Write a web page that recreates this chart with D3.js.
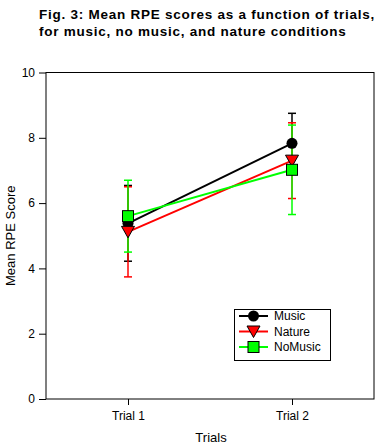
<!DOCTYPE html>
<html><head><meta charset="utf-8">
<script src="https://cdn.jsdelivr.net/npm/d3@7"></script>
<style>body{margin:0;background:#fff}svg{display:block}</style>
</head><body><svg id="c" width="389" height="446"></svg>
<script>
const trials = ["Trial 1", "Trial 2"];
const seriesNames = ["Music", "Nature", "NoMusic"];
const musicMean = [5.38, 7.83];
const musicErr = [1.16, 0.92];
const natureMean = [5.12, 7.30];
const natureErr = [1.38, 1.16];
const noMusicMean = [5.60, 7.02];
const noMusicErr = [1.10, 1.37];
const yTicks = [0, 2, 4, 6, 8, 10];

const series = [
  {name: seriesNames[0], mean: musicMean, err: musicErr, color: "#000000", shape: "circle"},
  {name: seriesNames[1], mean: natureMean, err: natureErr, color: "#ff0000", shape: "triangle"},
  {name: seriesNames[2], mean: noMusicMean, err: noMusicErr, color: "#00ff00", shape: "square"}
];

const svg = d3.select("#c");
const L = 46, R = 374, T = 72.5, B = 399;
const x = d3.scalePoint().domain(trials).range([L, R]).padding(0.5);
const y = d3.scaleLinear().domain([0, 10]).range([B, T]);
const font = "Liberation Sans, Arial, sans-serif";

// title
const title = svg.append("text").attr("font-family", font).attr("font-weight", "bold").attr("font-size", 13.5)
  .attr("letter-spacing", 0.75).attr("fill", "#000");
title.append("tspan").attr("x", 39).attr("y", 19).text("Fig. 3: Mean RPE scores as a function of trials,");
title.append("tspan").attr("x", 39).attr("y", 36).text("for music, no music, and nature conditions");

// frame
svg.append("rect").attr("x", L).attr("y", T).attr("width", R - L).attr("height", B - T)
  .attr("fill", "none").attr("stroke", "#000").attr("stroke-width", 1);

// axes
const yAxis = svg.append("g").attr("transform", `translate(${L},0)`)
  .call(d3.axisLeft(y).tickValues(yTicks).tickSize(7).tickPadding(4).tickFormat(d3.format("d")));
const xAxis = svg.append("g").attr("transform", `translate(0,${B})`)
  .call(d3.axisBottom(x).tickSize(6).tickPadding(6));
[yAxis, xAxis].forEach(g => {
  g.select(".domain").remove();
  g.selectAll("text").attr("font-family", font).attr("font-size", 12).attr("fill", "#000");
  g.selectAll("line").attr("stroke", "#000");
});

svg.append("text").attr("font-family", font).attr("font-size", 13)
  .attr("transform", `translate(15,${(T + B) / 2}) rotate(-90)`).attr("text-anchor", "middle").text("Mean RPE Score");
svg.append("text").attr("font-family", font).attr("font-size", 13)
  .attr("x", (L + R) / 2 + 1).attr("y", 442).attr("text-anchor", "middle").text("Trials");

// error bars
series.forEach(s => {
  const g = svg.append("g").attr("stroke", s.color).attr("stroke-width", 1.5);
  trials.forEach((t, i) => {
    const cx = x(t);
    const hi = y(s.mean[i] + s.err[i]), lo = y(s.mean[i] - s.err[i]);
    g.append("line").attr("x1", cx).attr("x2", cx).attr("y1", hi).attr("y2", lo);
    g.append("line").attr("x1", cx - 4).attr("x2", cx + 4).attr("y1", hi).attr("y2", hi);
    g.append("line").attr("x1", cx - 4).attr("x2", cx + 4).attr("y1", lo).attr("y2", lo);
  });
});

// lines
const line = d3.line().x((d, i) => x(trials[i])).y(d => y(d));
series.forEach(s => {
  svg.append("path").datum(s.mean).attr("d", line).attr("fill", "none")
    .attr("stroke", s.color).attr("stroke-width", 2);
});

function marker(g, shape, color, cx, cy) {
  if (shape === "circle") {
    g.append("circle").attr("cx", cx).attr("cy", cy).attr("r", 5.5).attr("fill", "#000");
  } else if (shape === "triangle") {
    g.append("path").attr("d", `M${cx - 6.5},${cy - 5.5}L${cx + 6.5},${cy - 5.5}L${cx},${cy + 6}Z`)
      .attr("fill", color).attr("stroke", "#000").attr("stroke-width", 1);
  } else {
    g.append("rect").attr("x", cx - 5.5).attr("y", cy - 5.5).attr("width", 11).attr("height", 11)
      .attr("fill", color).attr("stroke", "#000").attr("stroke-width", 1);
  }
}

// markers
series.forEach(s => {
  const g = svg.append("g");
  trials.forEach((t, i) => marker(g, s.shape, s.color, x(t), y(s.mean[i])));
});

// legend
const lg = svg.append("g");
lg.append("rect").attr("x", 234.5).attr("y", 309.5).attr("width", 96).attr("height", 51)
  .attr("fill", "#fff").attr("stroke", "#000").attr("stroke-width", 1);
series.forEach((s, i) => {
  const cy = 316 + i * 15.5;
  lg.append("line").attr("x1", 239).attr("x2", 268).attr("y1", cy).attr("y2", cy)
    .attr("stroke", s.color).attr("stroke-width", 2);
  marker(lg, s.shape, s.color, 253.5, cy);
  lg.append("text").attr("x", 274).attr("y", cy + 4).attr("font-family", font).attr("font-size", 12).text(s.name);
});
</script></body></html>
